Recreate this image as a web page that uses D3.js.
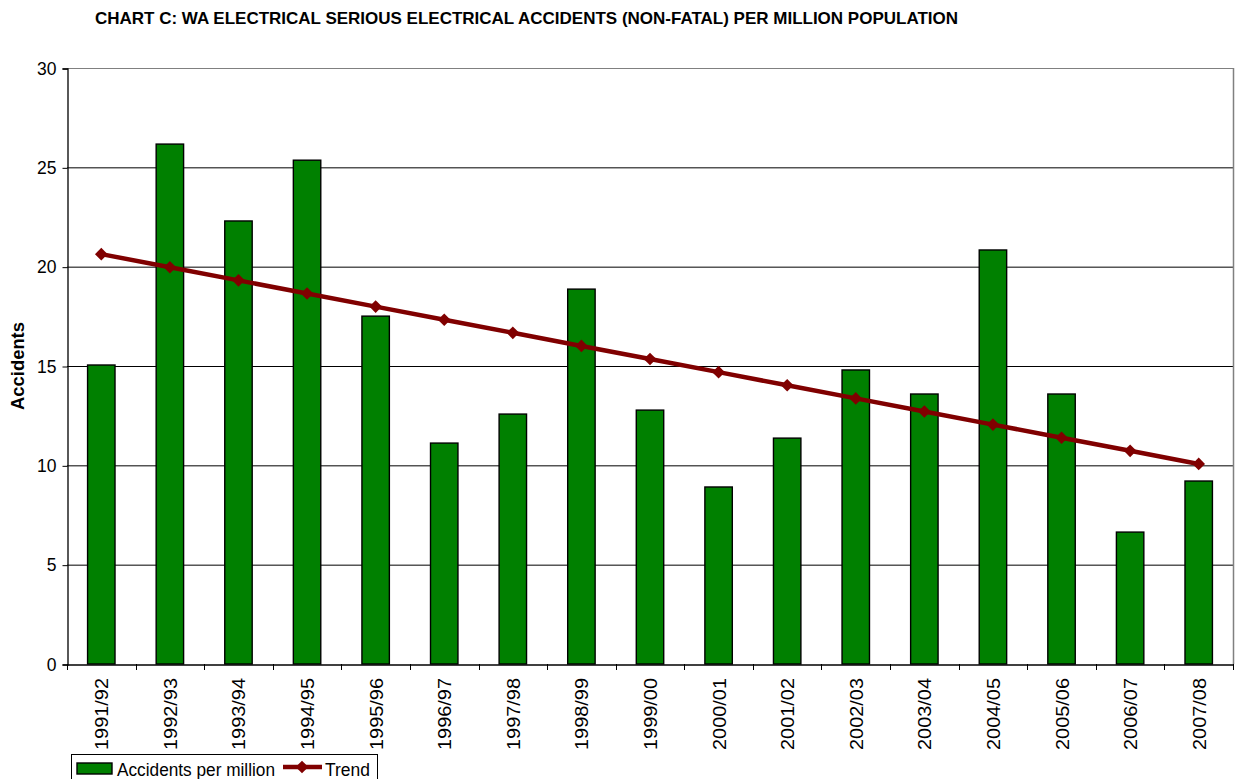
<!DOCTYPE html>
<html>
<head>
<meta charset="utf-8">
<script src="https://cdn.jsdelivr.net/npm/d3@7"></script>
<style>
  html, body { margin: 0; padding: 0; background: #fff; }
  svg { display: block; font-family: "Liberation Sans", Arial, sans-serif; }
</style>
</head>
<body>
<svg id="chart" width="1239" height="779"></svg>
<script>
// Financial years
const years = ["1991/92","1992/93","1993/94","1994/95","1995/96","1996/97","1997/98","1998/99",
  "1999/00","2000/01","2001/02","2002/03","2003/04","2004/05","2005/06","2006/07","2007/08"];
// Serious electrical accidents (non-fatal) per million population
const accidents = [15.05, 26.17, 22.3, 25.36, 17.51, 11.12, 12.58, 18.87,
  12.78, 8.91, 11.37, 14.8, 13.59, 20.84, 13.59, 6.64, 9.21];
// Linear trend values
const trend = [20.63, 19.97, 19.31, 18.65, 17.99, 17.33, 16.67, 16.01,
  15.35, 14.69, 14.03, 13.37, 12.71, 12.05, 11.39, 10.73, 10.07];
const yTicks = [0, 5, 10, 15, 20, 25, 30];

const svg = d3.select("#chart");
const plotLeft = 67, plotRight = 1233, plotTop = 68, plotBottom = 664;

const x = d3.scaleBand().domain(years).range([plotLeft, plotRight]).paddingInner(0.6).paddingOuter(0.3);
const xOuter = d3.scaleBand().domain(years).range([plotLeft, plotRight]);
const y = d3.scaleLinear().domain([0, 30]).range([plotBottom, plotTop]);

// Title
svg.append("text").attr("x", 95).attr("y", 24)
  .attr("font-size", 16.5).attr("font-weight", "bold").attr("fill", "#000")
  .attr("textLength", 863).attr("lengthAdjust", "spacingAndGlyphs")
  .text("CHART C: WA ELECTRICAL SERIOUS ELECTRICAL ACCIDENTS (NON-FATAL) PER MILLION POPULATION");

// Gridlines
svg.append("g").selectAll("line").data(yTicks.filter(d => d > 0)).join("line")
  .attr("x1", plotLeft).attr("x2", plotRight)
  .attr("y1", d => y(d) + 0.5).attr("y2", d => y(d) + 0.5)
  .attr("stroke", d => d === 30 ? "#808080" : "#000").attr("stroke-width", 1);

// Right border of plot area
svg.append("line").attr("x1", plotRight + 0.5).attr("x2", plotRight + 0.5)
  .attr("y1", plotTop).attr("y2", plotBottom).attr("stroke", "#808080").attr("stroke-width", 1.5);

// Bars
svg.append("g").selectAll("rect").data(accidents).join("rect")
  .attr("x", (d, i) => x(years[i]))
  .attr("width", x.bandwidth())
  .attr("y", d => y(d))
  .attr("height", d => plotBottom - y(d))
  .attr("fill", "#008000").attr("stroke", "#000").attr("stroke-width", 1.4);

// Y axis
const yAxis = d3.axisLeft(y).tickValues(yTicks).tickSize(5).tickPadding(6).tickFormat(d3.format("d"));
const gy = svg.append("g").attr("transform", `translate(${plotLeft + 0.5},0.5)`).call(yAxis);
gy.select(".domain").attr("stroke", "#000").attr("stroke-width", 1.3);
gy.selectAll(".tick line").attr("stroke", "#000");
gy.selectAll(".tick text").attr("font-size", 17.5).attr("fill", "#000")
  .attr("font-family", "Liberation Sans, Arial, sans-serif");

// X axis
const xAxis = d3.axisBottom(xOuter).tickSize(0).tickFormat("");
const gx = svg.append("g").attr("transform", `translate(0,${plotBottom + 0.5})`).call(xAxis);
gx.select(".domain").attr("stroke", "#000").attr("stroke-width", 1.3);
gx.selectAll(".tick").remove();
// Tick marks on category boundaries
const bounds = years.map(d => xOuter(d)).concat([plotRight]);
svg.append("g").selectAll("line").data(bounds).join("line")
  .attr("x1", d => Math.round(d) + 0.5).attr("x2", d => Math.round(d) + 0.5)
  .attr("y1", plotBottom).attr("y2", plotBottom + 6).attr("stroke", "#000");
// Category labels, rotated
svg.append("g").selectAll("text").data(years).join("text")
  .attr("transform", d => `translate(${xOuter(d) + xOuter.bandwidth() / 2 + 7},${plotBottom + 14}) rotate(-90)`)
  .attr("text-anchor", "end").attr("font-size", 18).attr("fill", "#000")
  .attr("textLength", 72).attr("lengthAdjust", "spacingAndGlyphs")
  .text(d => d);

// Y axis title
svg.append("text").attr("transform", "translate(24,366) rotate(-90)")
  .attr("text-anchor", "middle").attr("font-size", 18).attr("font-weight", "bold")
  .attr("textLength", 88).attr("lengthAdjust", "spacingAndGlyphs")
  .text("Accidents");

// Trend line with diamond markers (square turned 45°)
const cx = i => x(years[i]) + x.bandwidth() / 2;
const line = d3.line().x((d, i) => cx(i)).y(d => y(d));
svg.append("path").datum(trend).attr("d", line)
  .attr("fill", "none").attr("stroke", "#800000").attr("stroke-width", 4.5);
const diamond = d3.symbol().type(d3.symbolSquare).size(80);
svg.append("g").selectAll("path").data(trend).join("path")
  .attr("transform", (d, i) => `translate(${cx(i)},${y(d)}) rotate(45)`)
  .attr("d", diamond).attr("fill", "#800000");

// Legend
const lg = svg.append("g");
lg.append("rect").attr("x", 71.5).attr("y", 754.5).attr("width", 306).attr("height", 40)
  .attr("fill", "#fff").attr("stroke", "#000").attr("stroke-width", 1);
lg.append("rect").attr("x", 77).attr("y", 763).attr("width", 35).attr("height", 11)
  .attr("fill", "#008000").attr("stroke", "#000").attr("stroke-width", 1.4);
lg.append("text").attr("x", 117).attr("y", 776).attr("font-size", 17.5)
  .attr("textLength", 158).attr("lengthAdjust", "spacingAndGlyphs").text("Accidents per million");
lg.append("line").attr("x1", 283).attr("x2", 322).attr("y1", 767).attr("y2", 767)
  .attr("stroke", "#800000").attr("stroke-width", 4.5);
lg.append("path").attr("transform", "translate(302,767) rotate(45)").attr("d", diamond).attr("fill", "#800000");
lg.append("text").attr("x", 325).attr("y", 776).attr("font-size", 17.5)
  .attr("textLength", 45).attr("lengthAdjust", "spacingAndGlyphs").text("Trend");
</script>
</body>
</html>
